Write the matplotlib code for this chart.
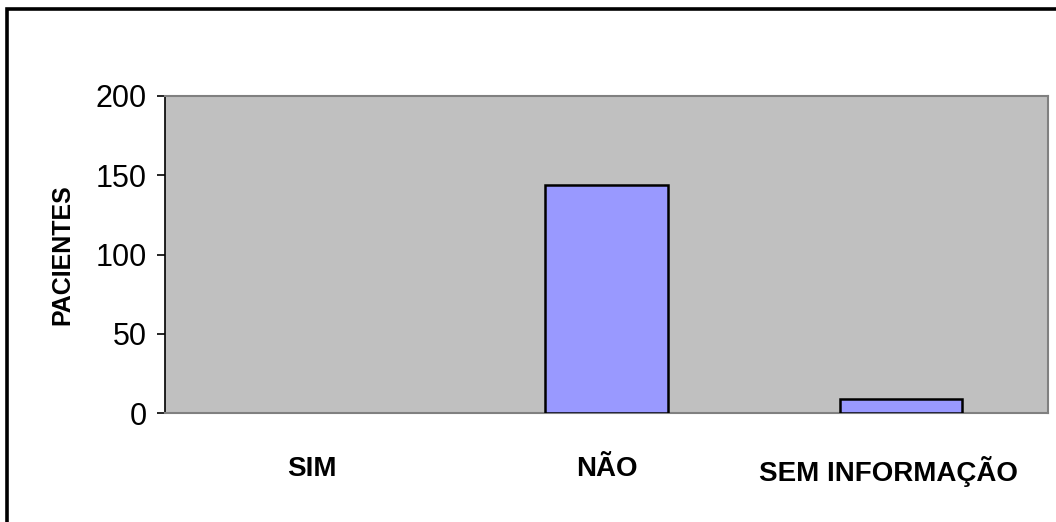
import matplotlib
matplotlib.use("Agg")
import matplotlib.pyplot as plt
from matplotlib.patches import Rectangle
from matplotlib.transforms import ScaledTranslation

categories = ["SIM", "NÃO", "SEM INFORMAÇÃO"]
pacientes = [0, 144, 9]
y_ticks = [0, 50, 100, 150, 200]

plt.rcParams["font.family"] = ["Liberation Sans", "DejaVu Sans"]

fig = plt.figure(figsize=(10.56, 5.22), dpi=100)
ax = fig.add_axes([0.15625, 0.2088, 0.8361, 0.6073])
ax.set_facecolor("#C0C0C0")

x = list(range(len(categories)))
edge_widths = [1.8 if v > 0 else 0 for v in pacientes]
ax.bar(x, pacientes, width=0.415, color="#9999FF", edgecolor="black",
       linewidth=edge_widths, zorder=3)

ax.set_xlim(-0.5, len(categories) - 0.5)
ax.set_ylim(0, 200)
ax.set_yticks(y_ticks)
ax.set_yticklabels([str(t) for t in y_ticks], fontsize=22)
ax.set_xticks(x)
ax.set_xticklabels(categories, fontsize=20, fontweight="bold")
ax.tick_params(axis="x", length=0, pad=31)
ax.tick_params(axis="y", length=6, width=1.2, color="black", pad=7)

# the long last label sits slightly left of its bar
last = ax.get_xticklabels()[-1]
last.set_transform(last.get_transform() + ScaledTranslation(-0.12, 0, fig.dpi_scale_trans))

ax.spines["left"].set_color("black")
ax.spines["left"].set_linewidth(1.2)
for side in ("top", "right", "bottom"):
    ax.spines[side].set_color("#808080")
    ax.spines[side].set_linewidth(1.5)

ax.set_ylabel("PACIENTES", fontsize=18, fontweight="bold", labelpad=15)

# outer chart frame
frame = Rectangle((6.5 / 1056, -0.1), 1.2, 1 - 8.5 / 522 + 0.1, transform=fig.transFigure,
                  fill=False, edgecolor="black", linewidth=2.6, clip_on=False)
fig.patches.append(frame)

fig.savefig("out.png", dpi=100)
